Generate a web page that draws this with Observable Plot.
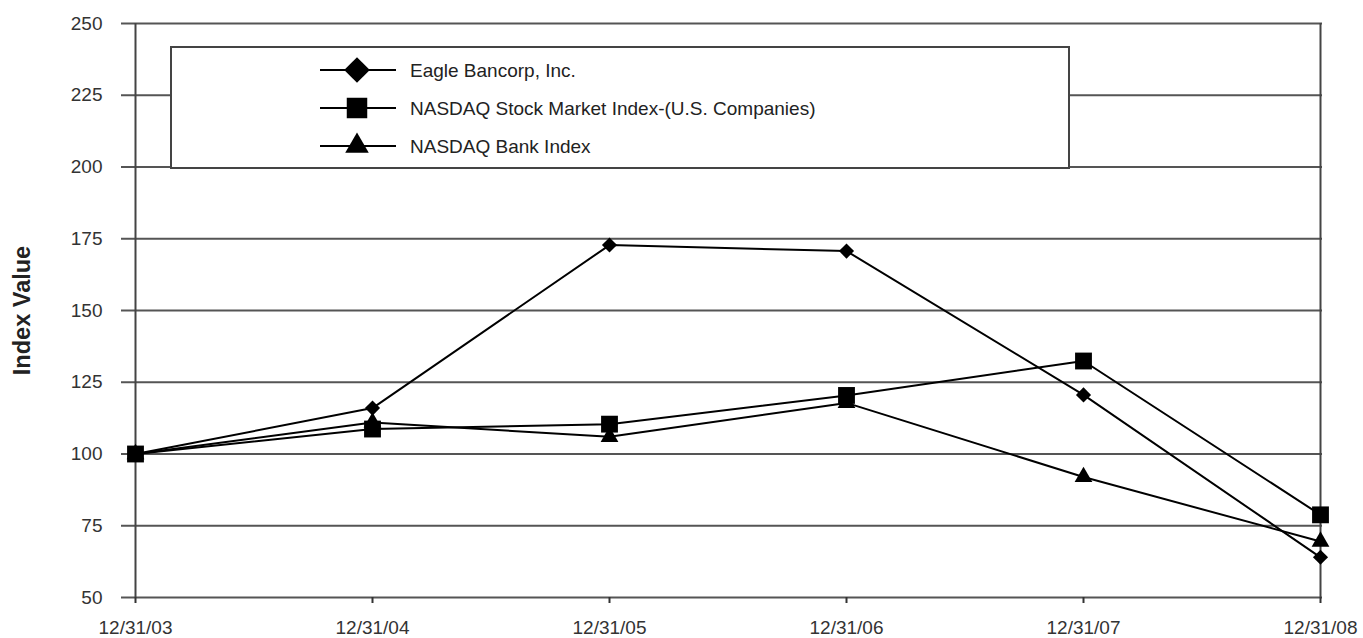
<!DOCTYPE html>
<html>
<head>
<meta charset="utf-8">
<script src="https://cdn.jsdelivr.net/npm/d3@7"></script>
<script src="https://cdn.jsdelivr.net/npm/@observablehq/plot@0.6"></script>
<style>
  html, body { margin: 0; padding: 0; background: #fff; }
  #chart { position: relative; width: 1363px; height: 638px; }
  svg { font-family: "Liberation Sans", Arial, sans-serif; }
</style>
</head>
<body>
<div id="chart"></div>
<script>
const dates = ["12/31/03", "12/31/04", "12/31/05", "12/31/06", "12/31/07", "12/31/08"];
const eagle = [100, 116, 172.8, 170.7, 120.6, 64];
const nasdaq = [100, 108.7, 110.4, 120.4, 132.4, 78.8];
const bank = [100, 111, 106, 117.8, 92, 69.5];
const yTicks = [50, 75, 100, 125, 150, 175, 200, 225, 250];
const seriesNames = ["Eagle Bancorp, Inc.", "NASDAQ Stock Market Index-(U.S. Companies)", "NASDAQ Bank Index"];
const seriesSymbols = ["diamond2", "square", "triangle"];
const seriesValues = [eagle, nasdaq, bank];

const rows = [];
seriesValues.forEach((vals, si) => {
  vals.forEach((v, i) => rows.push({series: seriesNames[si], symbol: seriesSymbols[si], date: dates[i], value: v}));
});

const symbolR = {diamond2: 6.8, square: 9.5, triangle: 6.6};

const plot = Plot.plot({
  width: 1363,
  height: 638,
  marginLeft: 133,
  marginRight: 41,
  marginTop: 23,
  marginBottom: 41,
  style: {fontFamily: "Liberation Sans, Arial, sans-serif", fontSize: "19px", color: "#222", background: "#fff", overflow: "visible"},
  x: {type: "point", domain: dates, padding: 0},
  y: {domain: [50, 250]},
  marks: [
    Plot.ruleY(yTicks, {stroke: "#555", strokeWidth: 2}),
    Plot.ruleX([dates[0], dates[dates.length - 1]], {stroke: "#444", strokeWidth: 2}),
    Plot.axisY({ticks: yTicks, tickSize: 12, tickPadding: 19, stroke: "#555", strokeWidth: 2, label: null, fontSize: 19, fill: "#333"}),
    Plot.axisX({tickSize: 6, tickPadding: 17, stroke: "#333", strokeWidth: 2, label: null, fontSize: 19, fill: "#333"}),
    Plot.line(rows, {x: "date", y: "value", z: "series", stroke: "#000", strokeWidth: 2}),
    ...seriesSymbols.map((s, si) => Plot.dot(rows.filter(r => r.symbol === s), {
      x: "date", y: "value", symbol: s, r: symbolR[s], fill: "#000", stroke: "none"
    })),
    Plot.text(["Index Value"], {frameAnchor: "left", dx: -111, rotate: -90, textAnchor: "middle", fontWeight: "bold", fontSize: 23.5, fill: "#222"})
  ]
});

document.getElementById("chart").appendChild(plot);

// Legend box drawn inside the plot area
const svg = d3.select(plot);
const lg = svg.append("g").attr("class", "legend").attr("text-anchor", "start");
lg.append("rect")
  .attr("x", 171).attr("y", 47).attr("width", 898).attr("height", 121)
  .attr("fill", "#fff").attr("stroke", "#444").attr("stroke-width", 2);
const legendY = [70, 108, 146];
const symGen = {
  diamond2: d3.symbol(d3.symbolDiamond2, 420),
  square: d3.symbol(d3.symbolSquare, 420),
  triangle: d3.symbol(d3.symbolTriangle, 240)
};
seriesNames.forEach((name, i) => {
  const y = legendY[i];
  lg.append("line").attr("x1", 320).attr("x2", 396).attr("y1", y).attr("y2", y)
    .attr("stroke", "#000").attr("stroke-width", 2);
  lg.append("path").attr("d", symGen[seriesSymbols[i]]())
    .attr("transform", `translate(357,${y})`).attr("fill", "#000");
  lg.append("text").attr("x", 410).attr("y", y).attr("dy", "0.35em")
    .attr("font-size", 19).attr("fill", "#222").text(name);
});
</script>
</body>
</html>
